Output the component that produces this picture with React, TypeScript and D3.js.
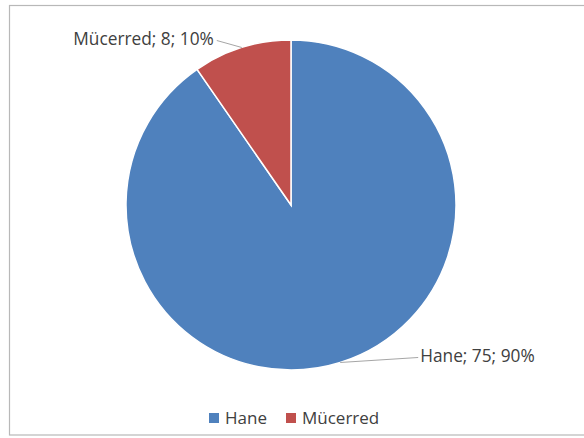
import React from "react";
import * as d3 from "d3";

const categories = ["Hane", "Mücerred"];
const values = [75, 8];
const colors = ["#4F81BD", "#C0504D"];

const W = 584;
const H = 438;
const cx = 291;
const cy = 205;
const R = 165;

export default function App() {
  const pie = d3.pie<number>().sort(null).startAngle(0).endAngle(2 * Math.PI);
  const arcs = pie(values);
  const arc = d3.arc<d3.PieArcDatum<number>>().innerRadius(0).outerRadius(R);
  const total = d3.sum(values);
  const fmt = d3.format(".0%");

  const labelOffsets = [
    { dx: 78, dy: -5, anchor: "start" },
    { dx: -25, dy: -7, anchor: "end" },
  ];

  const font = "'Open Sans', 'Noto Sans', sans-serif";

  return (
    <svg
      width={W}
      height={H}
      style={{ position: "absolute", left: 0, top: 0, background: "#fff" }}
    >
      <rect x={9.5} y={5.5} width={W} height={429.5} fill="#fff" stroke="#b8b8b8" strokeWidth={1.2} />
      <g transform={`translate(${cx},${cy})`}>
        {arcs.map((a, i) => (
          <path key={i} d={arc(a) || ""} fill={colors[i]} stroke="#fff" strokeWidth={1.5} />
        ))}
      </g>
      {arcs.map((a, i) => {
        const mid = (a.startAngle + a.endAngle) / 2;
        const px = cx + R * Math.sin(mid);
        const py = cy - R * Math.cos(mid);
        const o = labelOffsets[i];
        const lx = px + o.dx;
        const ly = py + o.dy;
        const tx = o.anchor === "start" ? lx + 2 : lx - 3;
        return (
          <g key={i}>
            <line x1={px} y1={py} x2={lx} y2={ly} stroke="#a6a6a6" strokeWidth={1} />
            <text
              x={tx}
              y={ly - 2}
              dy="0.35em"
              textAnchor={o.anchor}
              fontFamily={font}
              fontSize={17.3}
              fill="#404040"
            >
              {`${categories[i]}; ${values[i]}; ${fmt(values[i] / total)}`}
            </text>
          </g>
        );
      })}
      <g transform="translate(209,418)">
        {categories.map((c, i) => {
          const x0 = i === 0 ? 0 : 77;
          return (
            <g key={c} transform={`translate(${x0},0)`}>
              <rect x={0} y={-5} width={10} height={10} fill={colors[i]} />
              <text x={16} y={0} dy="0.35em" fontFamily={font} fontSize={17} fill="#404040">
                {c}
              </text>
            </g>
          );
        })}
      </g>
    </svg>
  );
}
